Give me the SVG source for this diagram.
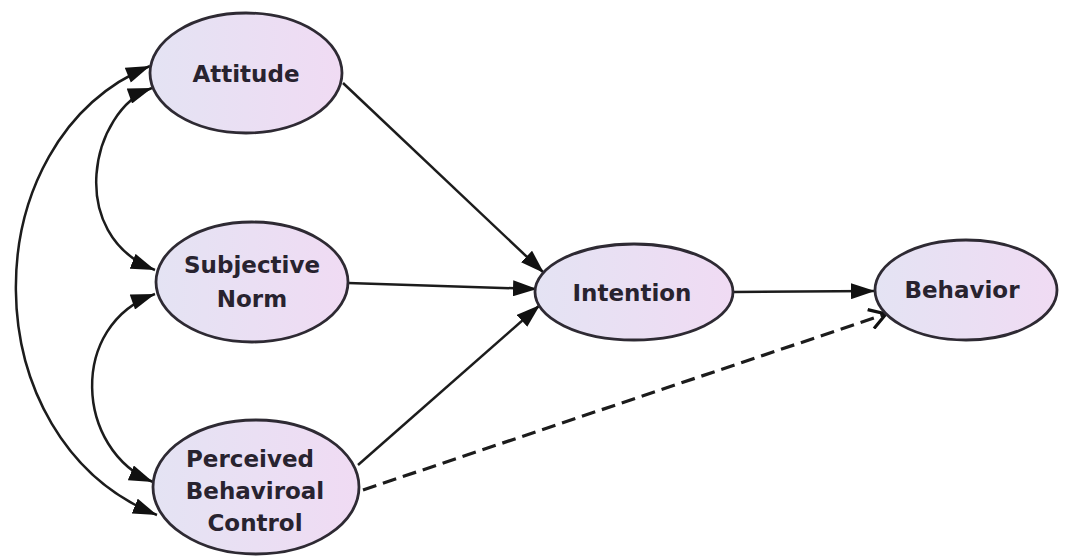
<svg xmlns="http://www.w3.org/2000/svg" width="1078" height="560" viewBox="0 0 1078 560">
  <style>
    .node { stroke: #2e2a33; stroke-width: 2.8; fill: url(#nodeFill); }
    .label { font-family: "DejaVu Sans", "Liberation Sans", sans-serif; font-weight: bold; font-size: 23px; fill: #28232f; text-anchor: middle; }
    .edge { fill: none; stroke: #1c1c1c; stroke-width: 2.5; }
    .arrow { marker-end: url(#head); }
    .both { marker-start: url(#headStart); marker-end: url(#head); }
    .dashed { stroke-width: 3.2; stroke-dasharray: 14 7; marker-end: url(#openHead); }
  </style>
  <defs>
    <linearGradient id="nodeFill" x1="0" y1="0" x2="1" y2="0">
      <stop offset="0" stop-color="#e4e3f3"/>
      <stop offset="1" stop-color="#f0dbf3"/>
    </linearGradient>
    <marker id="head" markerUnits="userSpaceOnUse" markerWidth="26" markerHeight="16" refX="24" refY="8" orient="auto">
      <path d="M0,0 L24,8 L0,16 Z" fill="#111"/>
    </marker>
    <marker id="headStart" markerUnits="userSpaceOnUse" markerWidth="26" markerHeight="16" refX="0" refY="8" orient="auto">
      <path d="M24,0 L0,8 L24,16 Z" fill="#111"/>
    </marker>
    <marker id="openHead" markerUnits="userSpaceOnUse" markerWidth="24" markerHeight="22" refX="20" refY="11" orient="auto">
      <path d="M4,1 L20,11 L4,21" fill="none" stroke="#111" stroke-width="3.2"/>
    </marker>
  </defs>

  <rect width="1078" height="560" fill="#ffffff"/>

  <g id="connectors">
    <!-- correlations between the three predictors -->
    <path class="edge both" d="M152,88 C90,110 65,235 155,270"/>
    <path class="edge both" d="M155,294 C68,325 75,450 153,482"/>
    <path class="edge both" d="M150,66 C-30,140 -30,440 157,515"/>
    <!-- paths into Intention -->
    <path class="edge arrow" d="M343,83 L544,273"/>
    <path class="edge arrow" d="M348,283 L537,289"/>
    <path class="edge arrow" d="M358,465 L540,305"/>
    <!-- Intention to Behavior -->
    <path class="edge arrow" d="M733,292 L875,291"/>
    <!-- direct control path -->
    <path class="edge dashed" d="M363,490 L886,314"/>
  </g>

  <g id="attitude">
    <ellipse class="node" cx="246" cy="73" rx="96" ry="60"/>
    <text class="label" x="246" y="82">Attitude</text>
  </g>

  <g id="subjective-norm">
    <ellipse class="node" cx="252" cy="282" rx="96" ry="60"/>
    <text class="label" x="252" y="273">Subjective</text>
    <text class="label" x="252" y="307">Norm</text>
  </g>

  <g id="perceived-behavioral-control">
    <ellipse class="node" cx="256" cy="487" rx="103" ry="67"/>
    <text class="label" x="250" y="467">Perceived</text>
    <text class="label" x="255" y="499">Behaviroal</text>
    <text class="label" x="255" y="531">Control</text>
  </g>

  <g id="intention">
    <ellipse class="node" cx="634" cy="292" rx="99" ry="48"/>
    <text class="label" x="632" y="301">Intention</text>
  </g>

  <g id="behavior">
    <ellipse class="node" cx="966" cy="290" rx="91" ry="50"/>
    <text class="label" x="962" y="298">Behavior</text>
  </g>
</svg>
